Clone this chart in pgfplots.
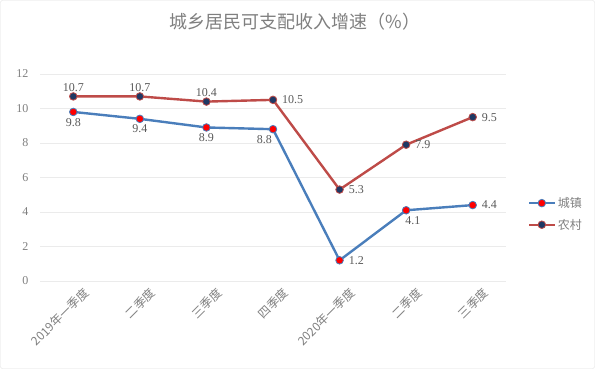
\documentclass[border=0pt]{standalone}
\usepackage{pgfplots}
\pgfplotsset{compat=1.18}
\usepackage{fontspec}
\setmainfont{Liberation Serif}
\newfontfamily\cjk{Noto Sans CJK SC}
\definecolor{blueL}{HTML}{4A7EBB}
\definecolor{redL}{HTML}{BE4B48}
\definecolor{navyM}{HTML}{1F3864}
\definecolor{txtG}{HTML}{595959}
\definecolor{tickG}{HTML}{7F7F7F}

\pgfplotsset{
  lab/.style 2 args={draw=none, mark=none, forget plot,
    nodes near coords={\pgfmathprintnumber[fixed,fixed zerofill,precision=1,assume math mode=true]{\pgfplotspointmeta}},
    every node near coord/.style={font=\fontsize{12}{13}\selectfont, text=txtG, inner sep=1pt, anchor=#1, #2},
  },
  urbanstyle/.style={blueL, line width=2.4pt, mark=*, mark size=3.8pt,
    mark options={fill=red, draw=blueL, line width=0.8pt}},
  ruralstyle/.style={redL, line width=2.4pt, mark=*, mark size=3.8pt,
    mark options={fill=navyM, draw=redL, line width=0.8pt}},
}

\begin{document}
\begin{tikzpicture}
\useasboundingbox (0pt,0pt) rectangle (595pt,369pt);
\draw[black!12, rounded corners=2pt] (0.5pt,0.5pt) rectangle (594.5pt,368.5pt);
\node[font=\cjk\fontsize{18}{20}\selectfont, text=tickG] at (295pt,347pt) {城乡居民可支配收入增速（\%）};
\begin{axis}[
  at={(40pt,88pt)}, anchor=south west,
  scale only axis, width=466pt, height=207pt,
  xmin=-0.5, xmax=6.5, ymin=0, ymax=12,
  ytick={0,2,...,12},
  xtick={0,...,6},
  xticklabels={2019年一季度,二季度,三季度,四季度,2020年一季度,二季度,三季度},
  xticklabel style={font=\cjk\fontsize{12}{13}\selectfont, text=tickG, rotate=45, anchor=north east, yshift=-7pt, xshift=6pt},
  yticklabel style={font=\fontsize{12}{13}\selectfont, text=tickG, xshift=-8pt},
  /pgf/number format/assume math mode=true,
  axis line style={draw=none},
  major tick length=0pt,
  ymajorgrids, grid style={black!8, line width=0.6pt},
  clip=false,
  legend style={at={(1.04,0.324)}, anchor=west, draw=none, fill=none,
    font=\cjk\fontsize{12}{14}\selectfont, text=tickG, row sep=6pt},
  legend cell align=left,
  legend image code/.code={
    \draw[#1, mark=none] (0cm,0cm) -- (0.9cm,0cm);
    \draw[#1, only marks] plot coordinates {(0.45cm,0cm)};
  },
]
\addplot[urbanstyle] coordinates {(0,9.8) (1,9.4) (2,8.9) (3,8.8) (4,1.2) (5,4.1) (6,4.4)};
\addlegendentry{城镇}
\addplot[ruralstyle] coordinates {(0,10.7) (1,10.7) (2,10.4) (3,10.5) (4,5.3) (5,7.9) (6,9.5)};
\addlegendentry{农村}
% data labels
\addplot[lab={north}{yshift=-5pt}] coordinates {(0,9.8) (1,9.4) (2,8.9)};
\addplot[lab={north east}{yshift=-5pt, xshift=0pt}] coordinates {(3,8.8)};
\addplot[lab={west}{xshift=8pt}] coordinates {(4,1.2) (6,4.4)};
\addplot[lab={north west}{yshift=-5pt, xshift=-2pt}] coordinates {(5,4.1)};
\addplot[lab={south}{yshift=4pt}] coordinates {(0,10.7) (1,10.7) (2,10.4)};
\addplot[lab={west}{xshift=8pt}] coordinates {(3,10.5) (4,5.3) (5,7.9) (6,9.5)};
\end{axis}
\end{tikzpicture}
\end{document}
